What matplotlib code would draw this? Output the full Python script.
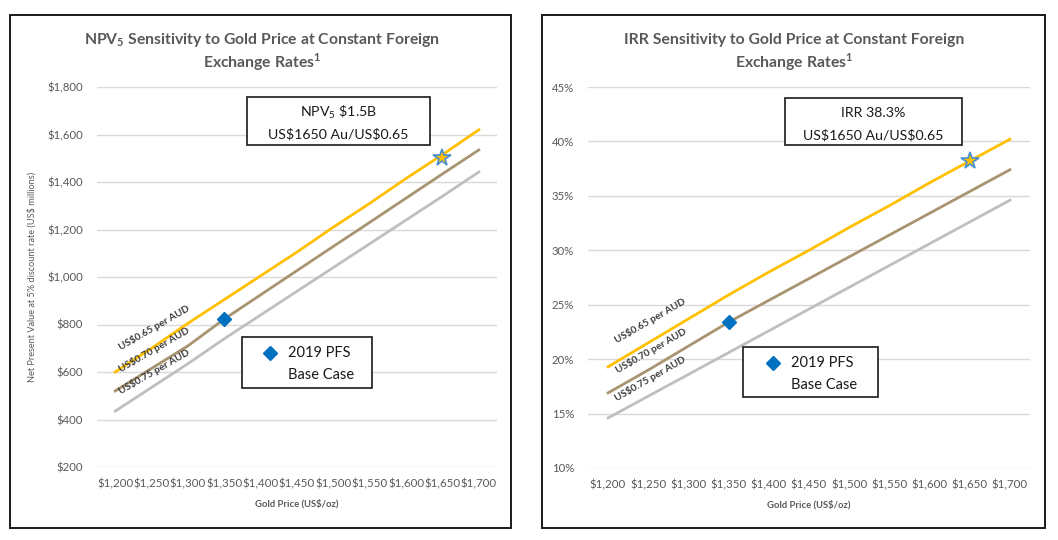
import matplotlib
matplotlib.use("Agg")
import matplotlib.pyplot as plt
from matplotlib.patches import Rectangle
from matplotlib.ticker import FuncFormatter

plt.rcParams['font.family'] = ['Lato', 'DejaVu Sans']
plt.rcParams['mathtext.fontset'] = 'custom'
plt.rcParams['mathtext.rm'] = 'Lato'
plt.rcParams['mathtext.bf'] = 'Lato:bold'

# ---------------- data ----------------
gold_price = [1200, 1250, 1300, 1350, 1400, 1450, 1500, 1550, 1600, 1650, 1700]

npv_065 = [600, 700, 805, 905, 1005, 1105, 1210, 1310, 1415, 1515, 1620]
npv_070 = [520, 615, 710, 823, 925, 1027, 1129, 1230, 1332, 1434, 1535]
npv_075 = [435, 535, 635, 740, 840, 940, 1040, 1140, 1240, 1340, 1442]

irr_065 = [19.3, 21.5, 23.7, 25.9, 28.0, 30.0, 32.1, 34.1, 36.2, 38.2, 40.2]
irr_070 = [16.9, 19.0, 21.2, 23.4, 25.4, 27.4, 29.4, 31.4, 33.4, 35.4, 37.4]
irr_075 = [14.6, 16.6, 18.6, 20.6, 22.6, 24.6, 26.6, 28.6, 30.6, 32.6, 34.6]

base_case_gold = 1350
base_npv = 823
base_irr = 23.4
current_gold = 1650
current_npv = 1500
current_irr = 38.2

fx_labels = ["US\\$0.65 per AUD", "US\\$0.70 per AUD", "US\\$0.75 per AUD"]
npv_ticks = [200, 400, 600, 800, 1000, 1200, 1400, 1600, 1800]
irr_ticks = [10, 15, 20, 25, 30, 35, 40, 45]

# ---------------- style ----------------
C_Y = '#FFC000'
C_T = '#A89470'
C_G = '#BFBFBF'
C_TXT = '#595959'
C_GRID = '#D9D9D9'
W, H = 1058, 540

fig = plt.figure(figsize=(W / 100, H / 100), dpi=100)


def fx(px):
    return px / W


def fy(py):
    return 1 - py / H


# panel frames
for (x0, y0, x1, y1) in [(10, 15, 511, 528), (542, 15, 1045, 528)]:
    fig.add_artist(Rectangle((fx(x0), fy(y1)), fx(x1 - x0), (y1 - y0) / H,
                             transform=fig.transFigure, fill=False,
                             edgecolor='#1a1a1a', linewidth=1.4))

axL = fig.add_axes([fx(97), fy(467), fx(497 - 97), (467 - 87) / H])
axR = fig.add_axes([fx(588), fy(468), fx(1030 - 588), (468 - 87) / H])


def style(ax, ylim, yticks, fmt, xfs):
    ax.set_xlim(1175, 1725)
    ax.set_ylim(*ylim)
    ax.set_yticks(yticks)
    ax.set_xticks(gold_price)
    ax.set_xticklabels(["\\$" + f"{g:,}" for g in gold_price], fontsize=xfs,
                       color=C_TXT)
    ax.yaxis.set_major_formatter(FuncFormatter(fmt))
    for s in ax.spines.values():
        s.set_visible(False)
    ax.grid(axis='y', color=C_GRID, linewidth=1.0)
    ax.set_axisbelow(True)
    ax.tick_params(axis='both', length=0, colors=C_TXT, labelsize=8.2)
    ax.tick_params(axis='x', pad=8, labelsize=xfs)
    ax.tick_params(axis='y', pad=10)
    ax.set_xlabel("Gold Price (US\\$/oz)", fontsize=6.8, color=C_TXT,
                  fontweight='bold', labelpad=7)


style(axL, (200, 1800), npv_ticks, lambda v, p: "\\$" + f"{int(v):,}", 8.3)
style(axR, (10, 45), irr_ticks, lambda v, p: f"{int(v)}%", 8.3)

axL.set_ylabel("Net Present Value at 5% discount rate (US\\$ millions)",
               fontsize=6.6, color=C_TXT, labelpad=8)

lw = 2.0
for ax, series in [(axL, [npv_065, npv_070, npv_075]),
                   (axR, [irr_065, irr_070, irr_075])]:
    ax.plot(gold_price, series[2], color=C_G, lw=lw, zorder=3)
    ax.plot(gold_price, series[1], color=C_T, lw=lw, zorder=4)
    ax.plot(gold_price, series[0], color=C_Y, lw=lw, zorder=5)

# base case diamonds
axL.plot([base_case_gold], [base_npv], marker='D', color='#0070C0',
         markersize=7, linestyle='none', zorder=6)
axR.plot([base_case_gold], [base_irr], marker='D', color='#0070C0',
         markersize=7, linestyle='none', zorder=6)
# current stars
axL.plot([current_gold], [current_npv], marker='*', markerfacecolor=C_Y,
         markeredgecolor='#4A90D0', markeredgewidth=1.2, markersize=13,
         linestyle='none', zorder=7)
axR.plot([current_gold], [current_irr], marker='*', markerfacecolor=C_Y,
         markeredgecolor='#4A90D0', markeredgewidth=1.2, markersize=13,
         linestyle='none', zorder=7)

# line labels
for lab, yv in zip(fx_labels, [785, 693, 600]):
    axL.text(1253, yv, lab, rotation=30, ha='center', va='center',
             fontsize=7.2, fontweight='bold', color='#3a3a3a',
             rotation_mode='anchor', zorder=8)
for lab, yv in zip(fx_labels, [23.5, 20.75, 18.2]):
    axR.text(1253, yv, lab, rotation=30, ha='center', va='center',
             fontsize=7.2, fontweight='bold', color='#3a3a3a',
             rotation_mode='anchor', zorder=8)

# titles
TFS = 11.3
fig.text(fx(262), fy(40), "NPV$_\\mathbf{5}$ Sensitivity to Gold Price at Constant Foreign",
         ha='center', va='center', fontsize=TFS, fontweight='bold', color=C_TXT)
fig.text(fx(262), fy(62), "Exchange Rates$^\\mathbf{1}$",
         ha='center', va='center', fontsize=TFS, fontweight='bold', color=C_TXT)
fig.text(fx(794), fy(40), "IRR Sensitivity to Gold Price at Constant Foreign",
         ha='center', va='center', fontsize=TFS, fontweight='bold', color=C_TXT)
fig.text(fx(794), fy(62), "Exchange Rates$^\\mathbf{1}$",
         ha='center', va='center', fontsize=TFS, fontweight='bold', color=C_TXT)

# annotation boxes
for (x0, y0, x1, y1), l1, l2 in [
        ((247, 97, 430, 145), "NPV$_5$ \\$1.5B", "US\\$1650 Au/US\\$0.65"),
        ((785, 98, 962, 145), "IRR 38.3%", "US\\$1650 Au/US\\$0.65")]:
    fig.add_artist(Rectangle((fx(x0), fy(y1)), fx(x1 - x0), (y1 - y0) / H,
                             transform=fig.transFigure, facecolor='white',
                             edgecolor='#1a1a1a', linewidth=1.2, zorder=10))
    cx = (x0 + x1) / 2
    fig.text(fx(cx), fy(y0 + 15), l1, ha='center', va='center', fontsize=10.2,
             color='#1a1a1a', zorder=11)
    fig.text(fx(cx), fy(y0 + 37), l2, ha='center', va='center', fontsize=10.2,
             color='#1a1a1a', zorder=11)

# legend boxes
for (x0, y0, x1, y1), dx in [((242, 337, 372, 388), 270),
                             ((743, 347, 878, 397), 773)]:
    fig.add_artist(Rectangle((fx(x0), fy(y1)), fx(x1 - x0), (y1 - y0) / H,
                             transform=fig.transFigure, facecolor='white',
                             edgecolor='#1a1a1a', linewidth=1.2, zorder=10))
    fig.add_artist(plt.Line2D([fx(dx)], [fy(y0 + 16)], marker='D',
                              color='#0070C0', markersize=7,
                              transform=fig.transFigure, zorder=11))
    fig.text(fx(dx + 18), fy(y0 + 16), "2019 PFS", ha='left', va='center',
             fontsize=10.5, color='#1a1a1a', zorder=11)
    fig.text(fx(dx + 18), fy(y0 + 38), "Base Case", ha='left', va='center',
             fontsize=10.5, color='#1a1a1a', zorder=11)

fig.savefig("out.png", dpi=100)
